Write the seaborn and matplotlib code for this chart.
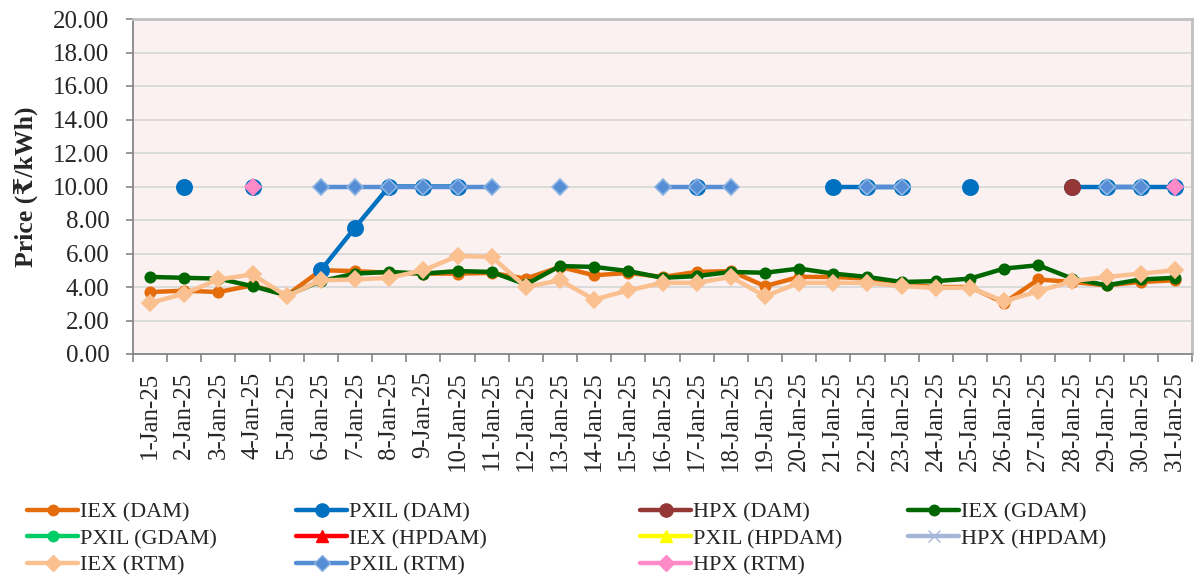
import numpy as np
import pandas as pd
import matplotlib
matplotlib.use("Agg")
import matplotlib.pyplot as plt
from matplotlib.lines import Line2D
import seaborn as sns

nan = np.nan
dates = [f"{d}-Jan-25" for d in range(1, 32)]

iex_dam = [3.70, 3.78, 3.70, 4.10, 3.50, 5.00, 4.95, 4.85, 4.80, 4.80, 4.84, 4.50, 5.20, 4.70, 4.84,
           4.60, 4.90, 4.95, 4.05, 4.60, 4.60, 4.50, 4.15, 4.00, 4.00, 3.05, 4.45, 4.30, 4.10, 4.30, 4.40]
iex_gdam = [4.60, 4.55, 4.50, 4.05, 3.50, 4.35, 4.80, 4.90, 4.80, 4.95, 4.90, 4.15, 5.25, 5.20, 4.95,
            4.55, 4.65, 4.90, 4.85, 5.10, 4.80, 4.60, 4.30, 4.35, 4.50, 5.10, 5.30, 4.50, 4.10, 4.45, 4.55]
iex_rtm = [3.05, 3.60, 4.45, 4.75, 3.45, 4.40, 4.45, 4.55, 5.00, 5.85, 5.80, 4.00, 4.40, 3.25, 3.80,
           4.25, 4.25, 4.60, 3.45, 4.25, 4.25, 4.25, 4.05, 3.95, 3.95, 3.15, 3.75, 4.35, 4.60, 4.80, 5.00]
pxil_dam = [nan, 10.0, nan, 10.0, nan, 5.00, 7.55, 10.0, 10.0, 10.0, nan, nan, nan, nan, nan,
            nan, 10.0, nan, nan, nan, 10.0, 10.0, 10.0, nan, 10.0, nan, nan, 10.0, 10.0, 10.0, 10.0]
hpx_dam = [nan] * 27 + [10.0] + [nan] * 3
pxil_rtm = [nan, nan, nan, nan, nan, 10.0, 10.0, 10.0, 10.0, 10.0, 10.0, nan, 10.0, nan, nan,
            10.0, 10.0, 10.0, nan, nan, nan, 10.0, 10.0, nan, nan, nan, nan, nan, 10.0, 10.0, nan]
hpx_rtm = [nan, nan, nan, 10.0] + [nan] * 26 + [10.0]
empty = [nan] * 31

series_names = ["IEX (DAM)", "PXIL (DAM)", "HPX (DAM)", "IEX (GDAM)", "PXIL (GDAM)", "IEX (HPDAM)",
                "PXIL (HPDAM)", "HPX (HPDAM)", "IEX (RTM)", "PXIL (RTM)", "HPX (RTM)"]
series_values = [iex_dam, pxil_dam, hpx_dam, iex_gdam, empty, empty, empty, empty, iex_rtm, pxil_rtm, hpx_rtm]
colors = ["#E46C0A", "#0070C0", "#953735", "#006600", "#00CC66", "#FF0000", "#FFFF00", "#A6B6D8",
          "#FAC090", "#558ED5", "#FF8AC8"]
markers = ["o", "o", "o", "o", "o", "^", "^", "x", "D", "D", "D"]
msizes = [7.5, 11, 11, 7.5, 7.5, 9, 9, 9, 8.5, 8.5, 8.5]
edgecolors = ["#E46C0A", "#0070C0", "#953735", "#006600", "#00CC66", "#FF0000", "#FFFF00", "#A6B6D8",
              "#FAC090", "#8EB4E3", "#FF8AC8"]

sns.set_theme(style="white")
plt.rcParams["font.family"] = ["Liberation Serif", "DejaVu Serif", "DejaVu Sans"]

fig = plt.figure(figsize=(12.01, 5.77), dpi=100)
ax = fig.add_axes([133 / 1201, 1 - 354 / 577, (1192 - 133) / 1201, (354 - 19) / 577])
ax.set_facecolor("#FBF1F1")

x = np.arange(31)
for name, vals, c, m, ms, ec in zip(series_names, series_values, colors, markers, msizes, edgecolors):
    v = np.array(vals, dtype=float)
    mask = ~np.isnan(v)
    if not mask.any():
        continue
    seg = np.cumsum(np.r_[True, mask[1:] != mask[:-1]])
    df = pd.DataFrame({"day": x[mask], "value": v[mask], "seg": seg[mask]})
    sns.lineplot(data=df, x="day", y="value", units="seg", estimator=None, ax=ax,
                 color=c, linewidth=3.2, marker=m, markersize=ms,
                 markeredgecolor=ec, markeredgewidth=1.2, legend=False, sort=False)

ax.set_xlim(-0.5, 30.5)
ax.set_ylim(0, 20)
yt = np.arange(0, 20.01, 2)
ax.set_yticks(yt)
ax.set_yticklabels([f"{t:.2f}" for t in yt], fontsize=18)
ax.yaxis.grid(True, color="#D9D9D9", linewidth=1.3)
ax.set_axisbelow(True)

ax.set_xticks(np.arange(-0.5, 31, 1))
ax.set_xticklabels([])
ax.set_xticks(x, minor=True)
ax.set_xticklabels(dates, minor=True, rotation=90, fontsize=18)
ax.tick_params(axis="x", which="major", length=6, width=1.2, color="#868686", direction="out", bottom=True)
ax.tick_params(axis="x", which="minor", length=0, pad=12.5)
ax.tick_params(axis="y", length=5, width=1.2, color="#868686", direction="out", left=True, pad=12)
ax.set_xlabel("")
ax.set_ylabel("Price (₹/kWh)", fontsize=18.5, fontweight="bold", labelpad=11)

for s in ["left", "bottom"]:
    ax.spines[s].set_color("#868686")
    ax.spines[s].set_linewidth(1.3)
for s in ["top", "right"]:
    ax.spines[s].set_color("#C0C0C0")
    ax.spines[s].set_linewidth(2)

handles = []
for name, c, m, ms, ec in zip(series_names, colors, markers, msizes, edgecolors):
    handles.append(Line2D([], [], color=c, linewidth=3.2, marker=m,
                          markersize=min(ms, 9.5), markeredgecolor=ec, label=name))

col_groups = [[0, 4, 8], [1, 5, 9], [2, 6, 10], [3, 7]]
col_x = [27, 296, 640, 908]
for grp, cx in zip(col_groups, col_x):
    fig.legend(handles=[handles[i] for i in grp], loc="upper left",
               bbox_to_anchor=(cx / 1201, 1 - 502 / 577), frameon=False,
               fontsize=16, handlelength=2.3, handletextpad=0.1, labelspacing=0.27,
               borderpad=0, borderaxespad=0)

fig.savefig("out.png", dpi=100, facecolor="white")
